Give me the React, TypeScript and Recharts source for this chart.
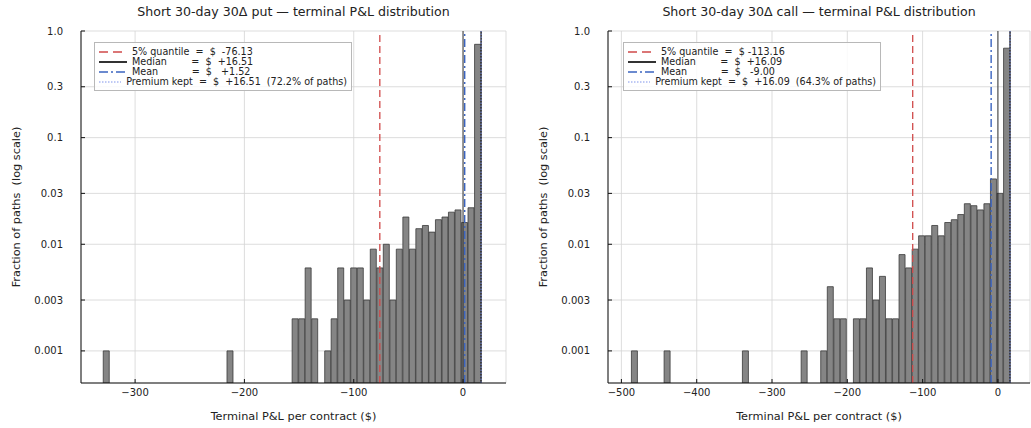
import React from 'react';
import {
  ComposedChart, Bar, XAxis, YAxis, CartesianGrid, ReferenceLine, Legend
} from 'recharts';

// bin centres ($) and fraction of paths
const putBinCenters = [
  -326.2, -213.0, -153.4, -147.4, -141.5, -135.5, -123.6, -117.7, -111.7, -105.7,
  -99.8, -93.8, -87.9, -81.9, -75.9, -70.0, -64.0, -58.1, -52.1, -46.1,
  -40.2, -34.2, -28.3, -22.3, -16.3, -10.4, -4.4, 1.5, 7.5, 13.5,
];
const putFractions = [
  0.001, 0.001, 0.002, 0.002, 0.006, 0.002, 0.001, 0.002, 0.006, 0.003,
  0.006, 0.006, 0.003, 0.009, 0.006, 0.010, 0.003, 0.009, 0.018, 0.009,
  0.014, 0.015, 0.013, 0.017, 0.018, 0.020, 0.021, 0.016, 0.022, 0.75,
];

const callBinCenters = [
  -482.4, -439.0, -335.0, -257.0, -231.0, -222.3, -213.6, -205.0, -187.6, -179.0,
  -170.3, -161.6, -153.0, -144.3, -135.6, -127.0, -118.3, -109.6, -101.0, -92.3,
  -83.6, -75.0, -66.3, -57.6, -49.0, -40.3, -31.6, -23.0, -14.3, -5.6,
  3.0, 11.8,
];
const callFractions = [
  0.001, 0.001, 0.001, 0.001, 0.001, 0.004, 0.002, 0.002, 0.002, 0.002,
  0.006, 0.003, 0.005, 0.002, 0.002, 0.008, 0.006, 0.009, 0.012, 0.012,
  0.015, 0.012, 0.016, 0.017, 0.019, 0.024, 0.023, 0.021, 0.024, 0.041,
  0.030, 0.69,
];

// quantile, median, mean, premium kept
const putStats = [-76.13, 16.51, 1.52, 16.51];
const callStats = [-113.16, 16.09, -9.0, 16.09];

const putLegend = [
  '5% quantile  =  $  -76.13',
  'Median        =  $  +16.51',
  'Mean           =  $   +1.52',
  'Premium kept  =  $  +16.51  (72.2% of paths)',
];
const callLegend = [
  '5% quantile  =  $ -113.16',
  'Median        =  $  +16.09',
  'Mean           =  $   -9.00',
  'Premium kept  =  $  +16.09  (64.3% of paths)',
];

const putTicks = [-300, -200, -100, 0];
const callTicks = [-500, -400, -300, -200, -100, 0];
const yTicks = [0.001, 0.003, 0.01, 0.03, 0.1, 0.3, 1];

const FONT = '"DejaVu Sans", sans-serif';
const LINE_STYLES = [
  { stroke: '#d04a4a', dash: '7 4', width: 1.3 },
  { stroke: '#333333', dash: undefined, width: 1.6 },
  { stroke: '#3b64c0', dash: '8 3 2 3', width: 1.4 },
  { stroke: '#7f93ea', dash: '1.5 1.5', width: 1 },
];
const LEGEND_DASH = ['9 5', undefined, '9 3 2 3', '1.5 1.5'];

const fmtX = (v: number) => (v < 0 ? '\u2212' + Math.abs(v) : String(v));
const fmtY = (v: number) => (v === 1 ? '1.0' : String(v));

function LegendBox({ rows }: { rows: string[] }) {
  return (
    <div style={{
      border: '1px solid #b8b8b8', background: 'rgba(255,255,255,0.85)',
      padding: '4px 4px 3px 4px', fontFamily: FONT, fontSize: 9.6, color: '#222',
      lineHeight: '10px', boxSizing: 'border-box',
    }}>
      {rows.map((r, i) => (
        <div key={i} style={{ display: 'flex', alignItems: 'center', height: 10 }}>
          <svg width={28} height={10} style={{ marginRight: 5 }}>
            <line x1={0} x2={28} y1={5} y2={5}
              stroke={LINE_STYLES[i].stroke}
              strokeDasharray={LEGEND_DASH[i]}
              strokeWidth={i === 1 ? 2 : LINE_STYLES[i].width} />
          </svg>
          <span style={{ whiteSpace: 'pre' }}>{r}</span>
        </div>
      ))}
    </div>
  );
}

interface PanelProps {
  title: string;
  centers: number[];
  fractions: number[];
  stats: number[];
  legend: string[];
  ticks: number[];
  domain: [number, number];
  left: number;
  width: number;
  marginLeft: number;
  marginRight: number;
  legendLeft: number;
}

function Panel(p: PanelProps) {
  const data = p.centers.map((x, i) => ({ pnl: x, frac: p.fractions[i] }));
  const plotLeft = p.marginLeft + 70;
  const plotW = p.width - plotLeft - p.marginRight;
  return (
    <div style={{ position: 'absolute', left: p.left, top: 0, width: p.width, height: 428 }}>
      <div style={{
        position: 'absolute', left: plotLeft, width: plotW, top: 4, textAlign: 'center',
        fontFamily: FONT, fontSize: 12.6, color: '#222', zIndex: 2,
      }}>{p.title}</div>
      <ComposedChart width={p.width} height={428} data={data} barCategoryGap={0} barGap={0}
        margin={{ top: 31, right: p.marginRight, bottom: 5, left: p.marginLeft }}>
        <CartesianGrid stroke="#d4d4d4" strokeWidth={0.8} />
        <XAxis dataKey="pnl" type="number" domain={p.domain} ticks={p.ticks} allowDataOverflow
          tickFormatter={fmtX} height={40} tickSize={-4} tickMargin={10}
          stroke="#111" tick={{ fill: '#222', fontSize: 10, fontFamily: FONT }}
          label={{ value: 'Terminal P&L per contract ($)', position: 'insideBottom', offset: 3,
            style: { fill: '#222', fontSize: 11.3, fontFamily: FONT } }} />
        <XAxis xAxisId="top" orientation="top" type="number" domain={p.domain} ticks={p.ticks}
          allowDataOverflow height={0} tick={false} tickSize={-4} stroke="#111" />
        <YAxis scale="log" domain={[0.0005, 1]} ticks={yTicks} allowDataOverflow type="number"
          tickFormatter={fmtY} width={70} tickSize={-4} tickMargin={22} stroke="#111"
          tick={{ fill: '#222', fontSize: 10, fontFamily: FONT }}
          label={{ value: 'Fraction of paths \u00a0(log scale)', angle: -90, position: 'insideLeft',
            style: { textAnchor: 'middle', fill: '#222', fontSize: 11.3, fontFamily: FONT } }} />
        <YAxis yAxisId="right" orientation="right" scale="log" domain={[0.0005, 1]} ticks={yTicks}
          allowDataOverflow type="number" width={0} tick={false} tickSize={-4} stroke="#111" />
        <Bar dataKey="frac" fill="#858585" stroke="#3a3a3a" strokeWidth={0.8}
          isAnimationActive={false} />
        <ReferenceLine x={0} stroke="#222" strokeWidth={0.9} />
        {[0, 1, 2, 3].map((k) => (
          <ReferenceLine key={k} x={p.stats[k]} stroke={LINE_STYLES[k].stroke}
            strokeDasharray={LINE_STYLES[k].dash} strokeWidth={LINE_STYLES[k].width} />
        ))}
        <Legend layout="vertical" align="center" verticalAlign="middle"
          wrapperStyle={{ left: p.legendLeft, top: 42, width: 258 }}
          content={() => <LegendBox rows={p.legend} />} />
      </ComposedChart>
    </div>
  );
}

export default function App() {
  return (
    <div style={{ position: 'absolute', left: 0, top: 0, width: 1031, height: 428, background: '#fff' }}>
      <Panel title={'Short 30-day 30\u0394 put \u2014 terminal P&L distribution'}
        centers={putBinCenters} fractions={putFractions} stats={putStats} legend={putLegend}
        ticks={putTicks} domain={[-349.5, 39.3]} left={0} width={520}
        marginLeft={11} marginRight={14} legendLeft={94} />
      <Panel title={'Short 30-day 30\u0394 call \u2014 terminal P&L distribution'}
        centers={callBinCenters} fractions={callFractions} stats={callStats} legend={callLegend}
        ticks={callTicks} domain={[-517.8, 42.6]} left={520} width={511}
        marginLeft={18} marginRight={1} legendLeft={103} />
    </div>
  );
}
